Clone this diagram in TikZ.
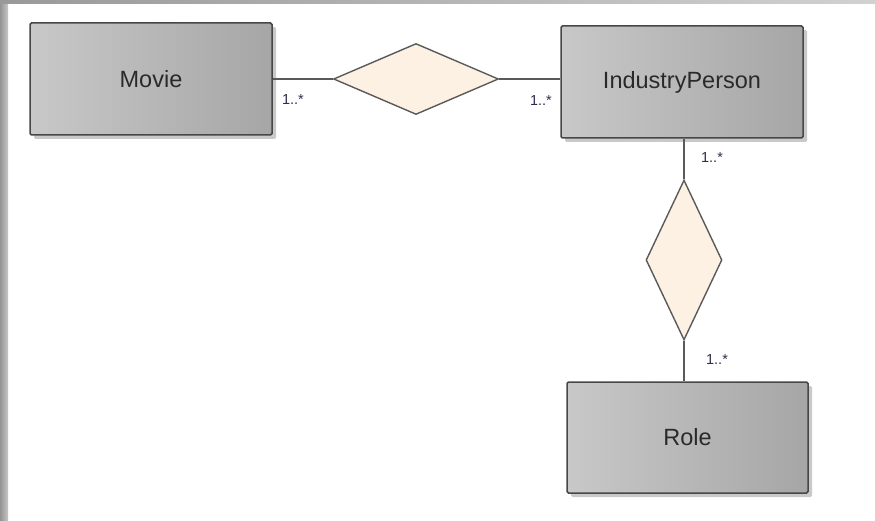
\documentclass[tikz,border=0pt]{standalone}
\usepackage{fontspec}
\setmainfont{Liberation Sans}
\usetikzlibrary{shapes.geometric,shadows}
\definecolor{boxL}{HTML}{C8C8C8}
\definecolor{boxR}{HTML}{A6A6A6}
\definecolor{boxline}{HTML}{474747}
\definecolor{relfill}{HTML}{FCF1E2}
\definecolor{relline}{HTML}{5A5A5A}
\definecolor{lbl}{HTML}{2E2E4E}
\definecolor{txt}{HTML}{2A2A2A}
\tikzset{
  entity/.style={rectangle, rounded corners=1.5pt, draw=boxline, line width=1.5pt,
    left color=boxL, right color=boxR, minimum width=242pt, minimum height=112pt,
    inner sep=0pt, text=txt, font=\fontsize{23.5}{28}\selectfont,
    drop shadow={shadow xshift=4pt, shadow yshift=-4pt, fill=black!35, opacity=0.6}},
  relation/.style={diamond, draw=relline, line width=1.4pt, fill=relfill, inner sep=0pt},
  conn/.style={draw=relline, line width=1.3pt},
  mult/.style={text=lbl, font=\fontsize{14.5}{16}\selectfont, inner sep=0pt}
}
\begin{document}
\begin{tikzpicture}[x=1pt,y=1pt]
\useasboundingbox (0,0) rectangle (875,520);
\fill[white] (0,0) rectangle (875,520);
\shade[left color=black!42, right color=black!22] (0,0) rectangle (8,520);
\shade[left color=black!40, right color=black!18] (0,516) rectangle (875,520);

\node[entity] (movie) at (151,441) {Movie};
\node[entity] (ip) at (682,438) {IndustryPerson};
\node[entity, minimum width=241pt, minimum height=111pt] (role) at (687.5,82.5) {Role};

\node[relation, minimum width=165pt, minimum height=71pt] (r1) at (416,441) {};
\node[relation, minimum width=76pt, minimum height=160pt] (r2) at (684,260) {};

\draw[conn] (movie.east |- r1.west) -- (r1.west);
\draw[conn] (r1.east) -- (r1.east -| ip.west);
\draw[conn] (r2.north) -- (r2.north |- ip.south);
\draw[conn] (r2.south) -- (r2.south |- role.north);

\node[mult] (m1) at (293,420) {1..*};
\node[mult] (m2) at (541,419) {1..*};
\node[mult] (m3) at (712,362) {1..*};
\node[mult] (m4) at (717,160) {1..*};
\end{tikzpicture}
\end{document}
